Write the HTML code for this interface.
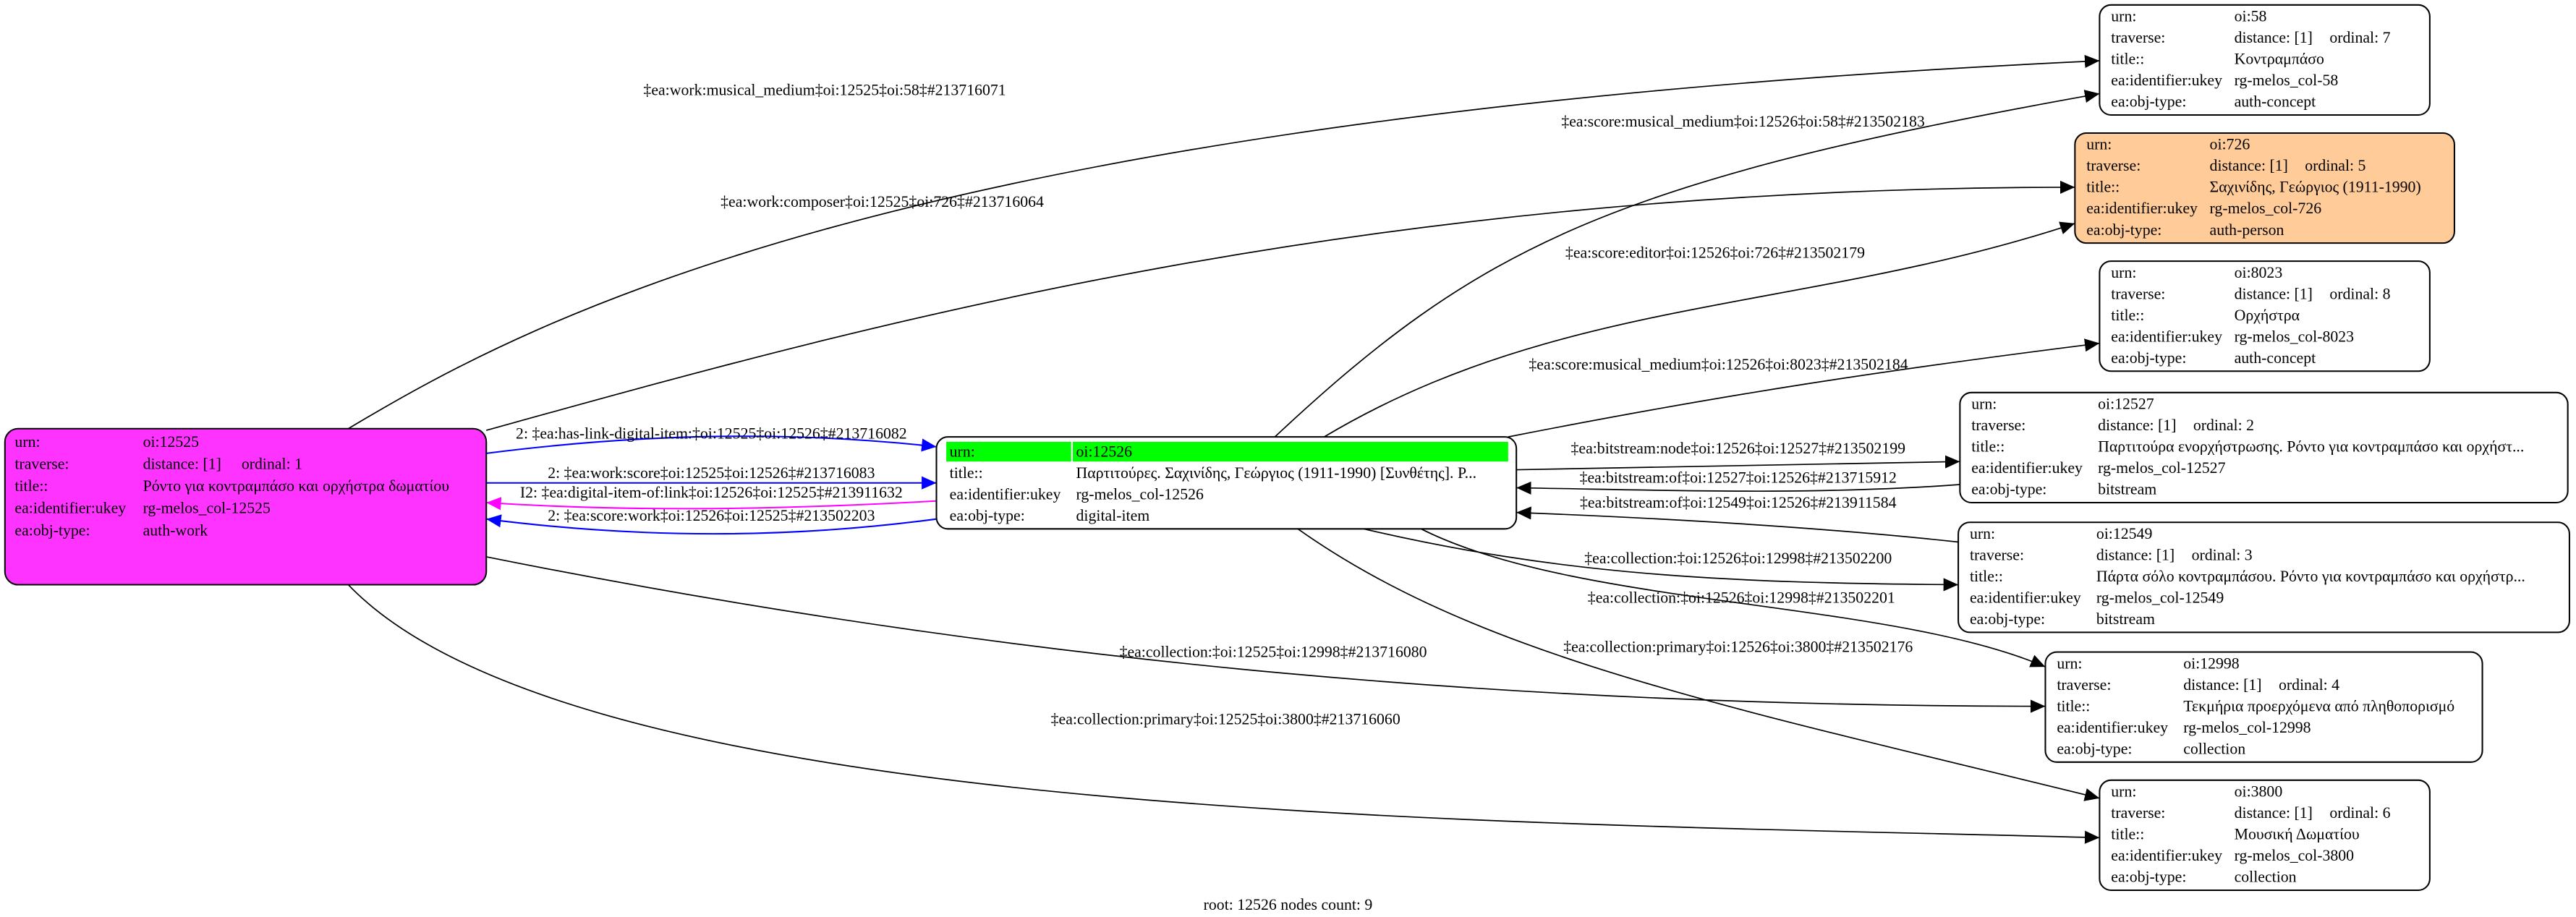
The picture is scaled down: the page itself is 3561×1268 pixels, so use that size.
<!DOCTYPE html>
<html><head><meta charset="utf-8"><style>
html,body{margin:0;padding:0;background:#fff;width:3561px;height:1268px;overflow:hidden}
svg{display:block}
text{font-family:"Liberation Serif","DejaVu Serif",serif;font-size:9.6px;fill:#000}
.e{fill:none;stroke:#000;stroke-width:0.75}
.n{stroke:#000;stroke-width:0.9}
</style></head><body>
<svg width="3561" height="1268" viewBox="0 0 1568 558.3" preserveAspectRatio="none" xmlns="http://www.w3.org/2000/svg">
<defs>
<marker id="a" markerUnits="userSpaceOnUse" markerWidth="10" markerHeight="8" refX="9" refY="4" orient="auto"><path d="M0,0 L9,4 L0,8 z" fill="#000"/></marker>
<marker id="b" markerUnits="userSpaceOnUse" markerWidth="10" markerHeight="8" refX="9" refY="4" orient="auto"><path d="M0,0 L9,4 L0,8 z" fill="#0000ff"/></marker>
<marker id="m" markerUnits="userSpaceOnUse" markerWidth="10" markerHeight="8" refX="9" refY="4" orient="auto"><path d="M0,0 L9,4 L0,8 z" fill="#ff00ff"/></marker>
</defs>

<!-- edges -->
<path class="e" marker-end="url(#a)" d="M212,261 C330,190 560,70 1278,37"/>
<text x="502" y="58" text-anchor="middle">‡ea:work:musical_medium‡oi:12525‡oi:58‡#213716071</text>
<path class="e" marker-end="url(#a)" d="M296,262 C520,200 820,114 1263,114"/>
<text x="537" y="126" text-anchor="middle">‡ea:work:composer‡oi:12525‡oi:726‡#213716064</text>

<path fill="none" stroke="#0000ff" stroke-width="0.9" marker-end="url(#b)" d="M296,276 C390,264 480,262 570,272"/>
<text x="433" y="267" text-anchor="middle">2: ‡ea:has-link-digital-item:‡oi:12525‡oi:12526‡#213716082</text>
<path fill="none" stroke="#0000ff" stroke-width="0.9" marker-end="url(#b)" d="M296,294 L570,294"/>
<text x="433" y="291" text-anchor="middle">2: ‡ea:work:score‡oi:12525‡oi:12526‡#213716083</text>
<path fill="none" stroke="#ff00ff" stroke-width="0.9" marker-end="url(#m)" d="M570,305 C480,310 390,312 296,306"/>
<text x="433" y="303" text-anchor="middle">I2: ‡ea:digital-item-of:link‡oi:12526‡oi:12525‡#213911632</text>
<path fill="none" stroke="#0000ff" stroke-width="0.9" marker-end="url(#b)" d="M570,316 C480,328 390,328 296,316"/>
<text x="433" y="317" text-anchor="middle">2: ‡ea:score:work‡oi:12526‡oi:12525‡#213502203</text>

<path class="e" marker-end="url(#a)" d="M776,266 C900,150 980,110 1278,57"/>
<text x="1061" y="77" text-anchor="middle">‡ea:score:musical_medium‡oi:12526‡oi:58‡#213502183</text>
<path class="e" marker-end="url(#a)" d="M806,266 C950,180 1100,190 1263,136"/>
<text x="1044" y="157" text-anchor="middle">‡ea:score:editor‡oi:12526‡oi:726‡#213502179</text>
<path class="e" marker-end="url(#a)" d="M918,266 C1050,240 1150,225 1278,209"/>
<text x="1046" y="225" text-anchor="middle">‡ea:score:musical_medium‡oi:12526‡oi:8023‡#213502184</text>
<path class="e" marker-end="url(#a)" d="M923,286 L1193,281"/>
<text x="1058" y="276" text-anchor="middle">‡ea:bitstream:node‡oi:12526‡oi:12527‡#213502199</text>
<path class="e" marker-end="url(#a)" d="M1193,295 C1100,302 1000,298 923,297"/>
<text x="1058" y="294" text-anchor="middle">‡ea:bitstream:of‡oi:12527‡oi:12526‡#213715912</text>
<path class="e" marker-end="url(#a)" d="M1192,330 C1100,320 1000,315 923,312"/>
<text x="1058" y="309" text-anchor="middle">‡ea:bitstream:of‡oi:12549‡oi:12526‡#213911584</text>
<path class="e" marker-end="url(#a)" d="M830,322 C950,350 1050,355 1192,356"/>
<text x="1058" y="343" text-anchor="middle">‡ea:collection:‡oi:12526‡oi:12998‡#213502200</text>
<path class="e" marker-end="url(#a)" d="M865,322 C960,370 1150,365 1245,406"/>
<text x="1060" y="367" text-anchor="middle">‡ea:collection:‡oi:12526‡oi:12998‡#213502201</text>
<path class="e" marker-end="url(#a)" d="M790,322 C900,400 1050,430 1278,486"/>
<text x="1058" y="397" text-anchor="middle">‡ea:collection:primary‡oi:12526‡oi:3800‡#213502176</text>
<path class="e" marker-end="url(#a)" d="M296,339 C600,400 900,430 1245,430"/>
<text x="775" y="400" text-anchor="middle">‡ea:collection:‡oi:12525‡oi:12998‡#213716080</text>
<path class="e" marker-end="url(#a)" d="M212,356 C350,500 900,500 1278,510"/>
<text x="746" y="441" text-anchor="middle">‡ea:collection:primary‡oi:12525‡oi:3800‡#213716060</text>

<!-- node 12525 -->
<rect class="n" x="3" y="261" width="293" height="95" rx="8" fill="#ff33ff"/>
<text x="9" y="272">urn:</text><text x="87" y="272">oi:12525</text>
<text x="9" y="285.5">traverse:</text><text x="87" y="285.5">distance: [1]</text><text x="147" y="285.5">ordinal: 1</text>
<text x="9" y="299">title::</text><text x="87" y="299">Ρόντο για κοντραμπάσο και ορχήστρα δωματίου</text>
<text x="9" y="312.5">ea:identifier:ukey</text><text x="87" y="312.5">rg-melos_col-12525</text>
<text x="9" y="326">ea:obj-type:</text><text x="87" y="326">auth-work</text>

<!-- node 12526 -->
<rect class="n" x="570" y="266" width="353" height="56" rx="7" fill="#fff"/>
<rect x="576" y="269" width="76" height="12" fill="#00ff00"/>
<rect x="653" y="269" width="265" height="12" fill="#00ff00"/>
<text x="578" y="278">urn:</text><text x="655" y="278">oi:12526</text>
<text x="578" y="291">title::</text><text x="655" y="291">Παρτιτούρες. Σαχινίδης, Γεώργιος (1911-1990) [Συνθέτης]. Ρ...</text>
<text x="578" y="304">ea:identifier:ukey</text><text x="655" y="304">rg-melos_col-12526</text>
<text x="578" y="317">ea:obj-type:</text><text x="655" y="317">digital-item</text>

<!-- oi:58 -->
<rect class="n" x="1278" y="3" width="201" height="67" rx="7" fill="#fff"/>
<text x="1285" y="13">urn:</text><text x="1360" y="13">oi:58</text>
<text x="1285" y="26">traverse:</text><text x="1360" y="26">distance: [1]</text><text x="1418" y="26">ordinal: 7</text>
<text x="1285" y="39">title::</text><text x="1360" y="39">Κοντραμπάσο</text>
<text x="1285" y="52">ea:identifier:ukey</text><text x="1360" y="52">rg-melos_col-58</text>
<text x="1285" y="65">ea:obj-type:</text><text x="1360" y="65">auth-concept</text>

<!-- oi:726 -->
<rect class="n" x="1263" y="81" width="231" height="67" rx="7" fill="#ffcc99"/>
<text x="1270" y="91">urn:</text><text x="1345" y="91">oi:726</text>
<text x="1270" y="104">traverse:</text><text x="1345" y="104">distance: [1]</text><text x="1403" y="104">ordinal: 5</text>
<text x="1270" y="117">title::</text><text x="1345" y="117">Σαχινίδης, Γεώργιος (1911-1990)</text>
<text x="1270" y="130">ea:identifier:ukey</text><text x="1345" y="130">rg-melos_col-726</text>
<text x="1270" y="143">ea:obj-type:</text><text x="1345" y="143">auth-person</text>

<!-- oi:8023 -->
<rect class="n" x="1278" y="159" width="201" height="67" rx="7" fill="#fff"/>
<text x="1285" y="169">urn:</text><text x="1360" y="169">oi:8023</text>
<text x="1285" y="182">traverse:</text><text x="1360" y="182">distance: [1]</text><text x="1418" y="182">ordinal: 8</text>
<text x="1285" y="195">title::</text><text x="1360" y="195">Ορχήστρα</text>
<text x="1285" y="208">ea:identifier:ukey</text><text x="1360" y="208">rg-melos_col-8023</text>
<text x="1285" y="221">ea:obj-type:</text><text x="1360" y="221">auth-concept</text>

<!-- oi:12527 -->
<rect class="n" x="1193" y="239" width="370" height="67" rx="7" fill="#fff"/>
<text x="1200" y="249">urn:</text><text x="1277" y="249">oi:12527</text>
<text x="1200" y="262">traverse:</text><text x="1277" y="262">distance: [1]</text><text x="1335" y="262">ordinal: 2</text>
<text x="1200" y="275">title::</text><text x="1277" y="275">Παρτιτούρα ενορχήστρωσης. Ρόντο για κοντραμπάσο και ορχήστ...</text>
<text x="1200" y="288">ea:identifier:ukey</text><text x="1277" y="288">rg-melos_col-12527</text>
<text x="1200" y="301">ea:obj-type:</text><text x="1277" y="301">bitstream</text>

<!-- oi:12549 -->
<rect class="n" x="1192" y="318" width="372" height="67" rx="7" fill="#fff"/>
<text x="1199" y="328">urn:</text><text x="1276" y="328">oi:12549</text>
<text x="1199" y="341">traverse:</text><text x="1276" y="341">distance: [1]</text><text x="1334" y="341">ordinal: 3</text>
<text x="1199" y="354">title::</text><text x="1276" y="354">Πάρτα σόλο κοντραμπάσου. Ρόντο για κοντραμπάσο και ορχήστρ...</text>
<text x="1199" y="367">ea:identifier:ukey</text><text x="1276" y="367">rg-melos_col-12549</text>
<text x="1199" y="380">ea:obj-type:</text><text x="1276" y="380">bitstream</text>

<!-- oi:12998 -->
<rect class="n" x="1245" y="397" width="266" height="67" rx="7" fill="#fff"/>
<text x="1252" y="407">urn:</text><text x="1329" y="407">oi:12998</text>
<text x="1252" y="420">traverse:</text><text x="1329" y="420">distance: [1]</text><text x="1387" y="420">ordinal: 4</text>
<text x="1252" y="433">title::</text><text x="1329" y="433">Τεκμήρια προερχόμενα από πληθοπορισμό</text>
<text x="1252" y="446">ea:identifier:ukey</text><text x="1329" y="446">rg-melos_col-12998</text>
<text x="1252" y="459">ea:obj-type:</text><text x="1329" y="459">collection</text>

<!-- oi:3800 -->
<rect class="n" x="1278" y="475" width="201" height="67" rx="7" fill="#fff"/>
<text x="1285" y="485">urn:</text><text x="1360" y="485">oi:3800</text>
<text x="1285" y="498">traverse:</text><text x="1360" y="498">distance: [1]</text><text x="1418" y="498">ordinal: 6</text>
<text x="1285" y="511">title::</text><text x="1360" y="511">Μουσική Δωματίου</text>
<text x="1285" y="524">ea:identifier:ukey</text><text x="1360" y="524">rg-melos_col-3800</text>
<text x="1285" y="537">ea:obj-type:</text><text x="1360" y="537">collection</text>

<text x="784" y="554" text-anchor="middle">root: 12526 nodes count: 9</text>
</svg>
</body></html>
